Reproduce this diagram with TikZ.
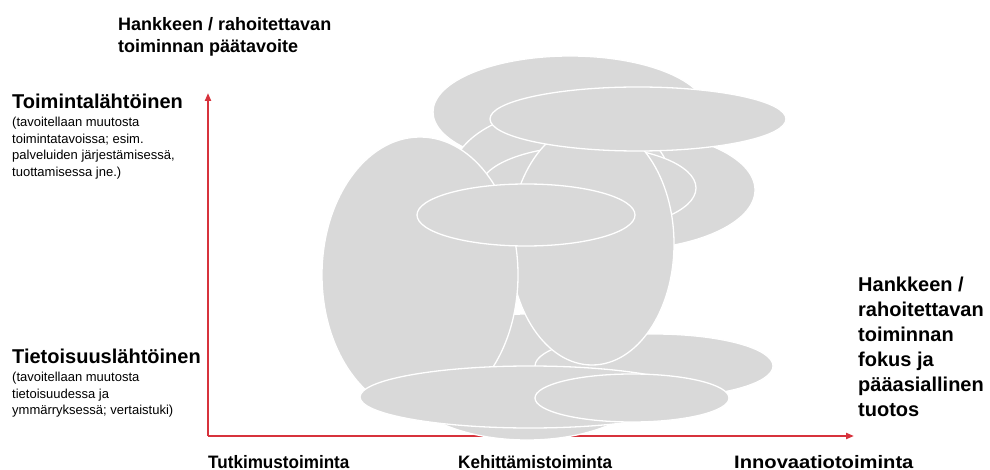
\documentclass[tikz,border=0pt]{standalone}
\usepackage{fontspec}
\setmainfont{Liberation Sans}
\usetikzlibrary{arrows.meta}
\definecolor{blobgray}{RGB}{217,217,217}
\definecolor{axisred}{RGB}{215,50,60}
\begin{document}
\begin{tikzpicture}[x=1pt,y=-1pt,
  blob/.style={fill=blobgray,draw=white,line width=1.3pt},
  axisline/.style={draw=axisred,line width=2pt,-{Triangle[length=8pt,width=6pt]}},
  bighead/.style={anchor=base west,inner sep=0pt,font=\fontsize{20}{25}\selectfont\bfseries},
  bigblock/.style={anchor=north west,inner sep=0pt,font=\fontsize{20}{25}\selectfont\bfseries,align=left},
  titlehead/.style={anchor=north west,inner sep=0pt,font=\fontsize{18}{22.5}\selectfont\bfseries,align=left},
  subtext/.style={anchor=north west,inner sep=0pt,font=\fontsize{13}{16.5}\selectfont,align=left},
  xlabel/.style={anchor=base west,inner sep=0pt,font=\fontsize{18}{22}\selectfont\bfseries}]
\useasboundingbox (0,0) rectangle (990,470);

% axes
\coordinate (O) at (208,436);
\coordinate (Ytop) at (208,93);
\coordinate (Xend) at (854,436);
\draw[axisline] (O) -- (Ytop);
\draw[axisline] (O) -- (Xend);

% ellipses (back to front)
\draw[blob] (570,112) ellipse [x radius=137pt, y radius=56pt];  % A
\draw[blob] (620,190) ellipse [x radius=135pt, y radius=60pt];  % C
\draw[blob] (560,180) ellipse [x radius=110pt, y radius=70pt];  % E
\draw[blob] (588,188) ellipse [x radius=108pt, y radius=42pt];  % F
\draw[blob] (527,377) ellipse [x radius=127pt, y radius=63pt];  % J
\draw[blob] (654,366) ellipse [x radius=119pt, y radius=32pt];  % K
\draw[blob] (592,244) ellipse [x radius=82pt, y radius=121pt];  % G
\draw[blob] (420,275) ellipse [x radius=98pt, y radius=138pt];  % D
\draw[blob] (638,119) ellipse [x radius=148pt, y radius=32pt];  % B
\draw[blob] (526,215) ellipse [x radius=109pt, y radius=31pt];  % H
\draw[blob] (530,397) ellipse [x radius=170pt, y radius=31pt];  % I
\draw[blob] (632,398) ellipse [x radius=97pt, y radius=24pt];   % L

% texts
\node[titlehead] (title) at (118,17) {Hankkeen / rahoitettavan\\toiminnan päätavoite};
\node[bighead] (toim) at (12,109) {Toimintalähtöinen};
\node[subtext] (toimsub) at (12,117) {(tavoitellaan muutosta\\toimintatavoissa; esim.\\palveluiden järjestämisessä,\\tuottamisessa jne.)};
\node[bighead] (tiet) at (12,363) {Tietoisuuslähtöinen};
\node[subtext] (tietsub) at (12,372) {(tavoitellaan muutosta\\tietoisuudessa ja\\ymmärryksessä; vertaistuki)};
\node[bigblock] (focus) at (858,277) {Hankkeen /\\rahoitettavan\\toiminnan\\fokus ja\\pääasiallinen\\tuotos};
\node[xlabel] (tutk) at (208,468) {\scalebox{0.95}[1]{Tutkimustoiminta}};
\node[xlabel] (kehi) at (458,468) {\scalebox{0.95}[1]{Kehittämistoiminta}};
\node[xlabel] (inno) at (734,468) {\scalebox{1.12}[1]{Innovaatiotoiminta}};
\end{tikzpicture}
\end{document}
